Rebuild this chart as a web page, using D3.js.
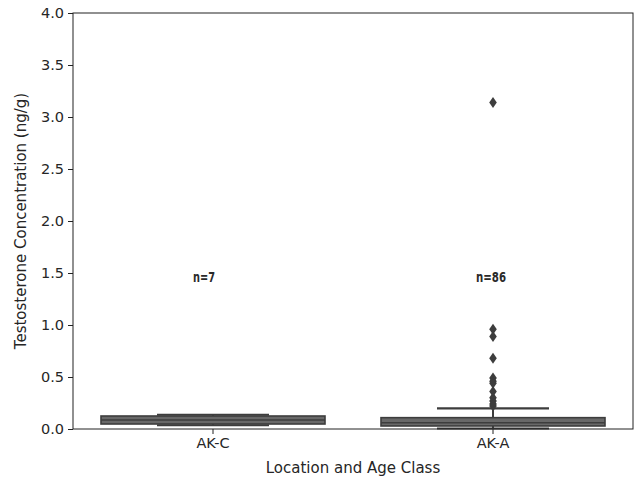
<!DOCTYPE html>
<html><head><meta charset="utf-8">
<script src="https://cdn.jsdelivr.net/npm/d3@7"></script>
<style>body{margin:0;background:#fff}svg{display:block}</style>
</head><body>
<script>
const categories = ["AK-C", "AK-A"];
const counts = [7, 86];
const q1 = [0.048, 0.029];
const medians = [0.087, 0.06];
const q3 = [0.125, 0.109];
const whiskLo = [0.036, 0.005];
const whiskHi = [0.137, 0.199];
const outliersAKA = [3.14, 0.96, 0.89, 0.68, 0.49, 0.46, 0.44, 0.36, 0.30, 0.27, 0.24, 0.22];
const yTicks = [0, 0.5, 1, 1.5, 2, 2.5, 3, 3.5, 4];

const W = 634, H = 478;
const m = {l: 73, r: 1, t: 13, b: 49};
const svg = d3.select("body").append("svg").attr("width", W).attr("height", H);
const x = d3.scaleBand().domain(categories).range([m.l, W - m.r]).paddingInner(0).paddingOuter(0);
const y = d3.scaleLinear().domain([0, 4]).range([H - m.b, m.t]);
const font = "DejaVu Sans, sans-serif";
const fs = 14.5;

const gy = svg.append("g").attr("transform", `translate(${m.l},0)`)
  .call(d3.axisLeft(y).tickValues(yTicks).tickFormat(d3.format(".1f")).tickSize(5).tickPadding(4));
const gx = svg.append("g").attr("transform", `translate(0,${H - m.b})`)
  .call(d3.axisBottom(x).tickSize(5).tickPadding(4));
[gy, gx].forEach(g => {
  g.select(".domain").remove();
  g.selectAll("line").attr("stroke", "#222").attr("stroke-width", 1);
  g.selectAll("text").attr("font-family", font).attr("font-size", fs).attr("fill", "#262626");
});

const bw = x.bandwidth() * 0.8;
const col = "#3d3d3d";
categories.forEach((c, i) => {
  const cx = x(c) + x.bandwidth() / 2;
  const g = svg.append("g");
  g.append("line").attr("x1", cx).attr("x2", cx).attr("y1", y(q3[i])).attr("y2", y(whiskHi[i]))
    .attr("stroke", col).attr("stroke-width", 2);
  g.append("line").attr("x1", cx).attr("x2", cx).attr("y1", y(q1[i])).attr("y2", y(whiskLo[i]))
    .attr("stroke", col).attr("stroke-width", 2);
  [whiskLo[i], whiskHi[i]].forEach(v => g.append("line")
    .attr("x1", cx - bw / 4).attr("x2", cx + bw / 4).attr("y1", y(v)).attr("y2", y(v))
    .attr("stroke", col).attr("stroke-width", 2.2));
  g.append("rect").attr("x", cx - bw / 2).attr("width", bw)
    .attr("y", y(q3[i])).attr("height", y(q1[i]) - y(q3[i]))
    .attr("fill", "#686868").attr("stroke", col).attr("stroke-width", 1.6);
  g.append("line").attr("x1", cx - bw / 2).attr("x2", cx + bw / 2)
    .attr("y1", y(medians[i])).attr("y2", y(medians[i])).attr("stroke", col).attr("stroke-width", 1.6);
  if (i === 1) {
    const s = 5.5, w = 3.8;
    g.selectAll("path.o").data(outliersAKA).enter().append("path")
      .attr("d", d => `M${cx},${y(d) - s}L${cx + w},${y(d)}L${cx},${y(d) + s}L${cx - w},${y(d)}Z`)
      .attr("fill", col);
  }
  svg.append("text").attr("x", cx + (i === 0 ? -20 : -17)).attr("y", 282)
    .attr("font-family", "DejaVu Sans Condensed, sans-serif").attr("font-weight", "bold")
    .attr("font-size", 14).attr("fill", "#2a2a2a")
    .attr("textLength", i === 0 ? 22 : 30).attr("lengthAdjust", "spacingAndGlyphs")
    .text("n=" + counts[i]);
});

svg.append("rect").attr("x", m.l).attr("y", m.t).attr("width", W - m.r - m.l).attr("height", H - m.b - m.t)
  .attr("fill", "none").attr("stroke", "#222").attr("stroke-width", 1);

svg.append("text").attr("x", (m.l + W - m.r) / 2).attr("y", 473).attr("text-anchor", "middle")
  .attr("font-family", font).attr("font-size", 15).attr("fill", "#262626").text("Location and Age Class");
svg.append("text").attr("transform", `translate(26,${(m.t + H - m.b) / 2}) rotate(-90)`)
  .attr("text-anchor", "middle").attr("font-family", font).attr("font-size", 15).attr("fill", "#262626")
  .text("Testosterone Concentration (ng/g)");
</script>
</body></html>
